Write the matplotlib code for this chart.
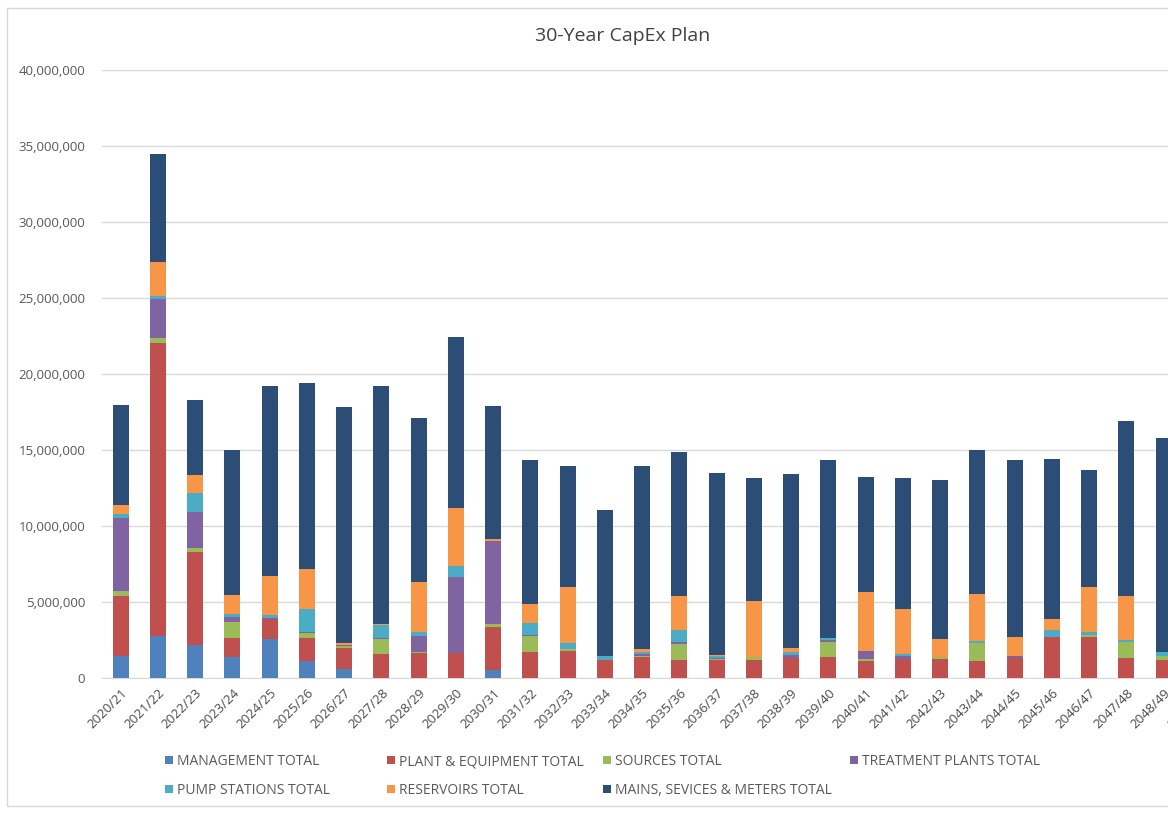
import numpy as np
import matplotlib
matplotlib.use("Agg")
import matplotlib.pyplot as plt
from matplotlib.patches import Rectangle
from matplotlib.ticker import FuncFormatter

plt.rcParams['font.family'] = ['Open Sans', 'DejaVu Sans']

# financial years (the last one is cut off at the right edge of the picture)
years = ["2020/21", "2021/22", "2022/23", "2023/24", "2024/25", "2025/26", "2026/27",
         "2027/28", "2028/29", "2029/30", "2030/31", "2031/32", "2032/33", "2033/34",
         "2034/35", "2035/36", "2036/37", "2037/38", "2038/39", "2039/40", "2040/41",
         "2041/42", "2042/43", "2043/44", "2044/45", "2045/46", "2046/47", "2047/48",
         "2048/49", "2049/50"]

# spend per category, in millions
management = [1.45, 2.75, 2.15, 1.35, 2.56, 1.1, 0.57, 0, 0, 0, 0.55, 0, 0, 0, 0,
              0, 0, 0, 0, 0, 0, 0, 0, 0, 0, 0, 0, 0, 0]
plant_equipment = [3.95, 19.27, 6.17, 1.27, 1.29, 1.5, 1.4, 1.6, 1.64, 1.64, 2.78, 1.73,
                   1.8, 1.18, 1.4, 1.18, 1.18, 1.18, 1.29, 1.4, 1.14, 1.23, 1.23, 1.12,
                   1.29, 2.68, 2.68, 1.29, 1.18]
sources = [0.35, 0.33, 0.23, 1.04, 0, 0.33, 0.15, 0.99, 0.1, 0, 0.24, 1.06, 0.1, 0,
           0.05, 1.03, 0.05, 0.18, 0.05, 0.99, 0.09, 0, 0.13, 1.16, 0, 0, 0.15, 1.06, 0.29]
treatment = [4.75, 2.61, 2.4, 0.37, 0.1, 0.07, 0.05, 0.05, 1.04, 5.0, 5.42, 0.05, 0, 0,
             0.1, 0.14, 0.1, 0, 0.15, 0.1, 0.55, 0.22, 0, 0.05, 0.15, 0, 0, 0, 0]
pump_stations = [0.26, 0.14, 1.25, 0.17, 0.22, 1.54, 0, 0.87, 0.24, 0.75, 0.05, 0.76,
                 0.37, 0.27, 0.15, 0.81, 0.1, 0, 0.22, 0.12, 0, 0.13, 0, 0.13, 0, 0.48,
                 0.17, 0.15, 0.26]
reservoirs = [0.63, 2.24, 1.15, 1.25, 2.55, 2.62, 0.15, 0.05, 3.29, 3.79, 0.13, 1.25,
              3.74, 0, 0.2, 2.23, 0.1, 3.71, 0.28, 0, 3.86, 2.96, 1.21, 3.04, 1.24, 0.72,
              2.96, 2.92, 0]
mains = [6.59, 7.15, 4.97, 9.52, 12.5, 12.24, 15.49, 15.65, 10.78, 11.25, 8.75, 9.5,
         7.96, 9.6, 12.02, 9.5, 11.95, 8.07, 11.41, 11.75, 7.56, 8.64, 10.43, 9.5, 11.66,
         10.51, 7.7, 11.51, 14.04]

series = [
    ("MANAGEMENT TOTAL", management, "#4F81BD"),
    ("PLANT & EQUIPMENT TOTAL", plant_equipment, "#C0504D"),
    ("SOURCES TOTAL", sources, "#9BBB59"),
    ("TREATMENT PLANTS TOTAL", treatment, "#8064A2"),
    ("PUMP STATIONS TOTAL", pump_stations, "#4BACC6"),
    ("RESERVOIRS TOTAL", reservoirs, "#F79646"),
    ("MAINS, SEVICES & METERS TOTAL", mains, "#2C4D75"),
]

W, H = 1168, 813
fig = plt.figure(figsize=(W / 100, H / 100), dpi=100)

# chart area border (runs off the right side like the screenshot)
fig.patches.append(Rectangle((7 / W, 1 - 806 / H), 1.2, (806 - 8) / H,
                             transform=fig.transFigure, fill=False,
                             edgecolor="#d9d9d9", linewidth=1))

# the plot area is wider than the picture, so the last column is cut
left, right = 102, 102 + 30 * 37.25
ax = fig.add_axes([left / W, 1 - 678 / H, (right - left) / W, (678 - 70) / H])

x = np.arange(len(mains))
bottom = np.zeros(len(mains))
handles = []
for name, vals, color in series:
    v = np.array(vals) * 1e6
    b = ax.bar(x, v, width=0.43, bottom=bottom, color=color, label=name, zorder=3)
    handles.append(b)
    bottom += v

ax.set_xlim(-0.5, len(years) - 0.5)
ax.set_ylim(0, 40e6)
ax.set_yticks(np.arange(0, 40e6 + 1, 5e6))
ax.yaxis.set_major_formatter(FuncFormatter(lambda v, p: f"{v:,.0f}"))
ax.set_xticks(np.arange(len(years)))
ax.set_xticklabels(years, rotation=45, ha="right", va="top", rotation_mode="anchor")
ax.tick_params(axis="both", length=0)
ax.tick_params(axis="y", pad=12, colors="#595959", labelsize=9.5)
ax.tick_params(axis="x", pad=6, colors="#4a4a4a", labelsize=9.5)
ax.grid(axis="y", color="#d9d9d9", linewidth=1, zorder=0)
for s in ["top", "right", "left"]:
    ax.spines[s].set_visible(False)
ax.spines["bottom"].set_color("#d9d9d9")

fig.text(623 / W, 1 - 36 / H, "30-Year CapEx Plan", ha="center", va="center",
         fontsize=14, color="#404040")

# legend laid out row by row like Excel, one small legend per column
columns = [[0, 4], [1, 5], [2, 6], [3]]
col_x = [165, 387, 603, 850]
for idx, cx in zip(columns, col_x):
    fig.legend([handles[i] for i in idx], [series[i][0] for i in idx],
               loc="upper left", bbox_to_anchor=(cx / W, 1 - 754 / H),
               frameon=False, fontsize=10, handlelength=0.55, handleheight=0.55,
               handletextpad=0.3, labelspacing=1.0, borderpad=0, borderaxespad=0,
               labelcolor="#595959")

fig.savefig("out.png", dpi=100)
